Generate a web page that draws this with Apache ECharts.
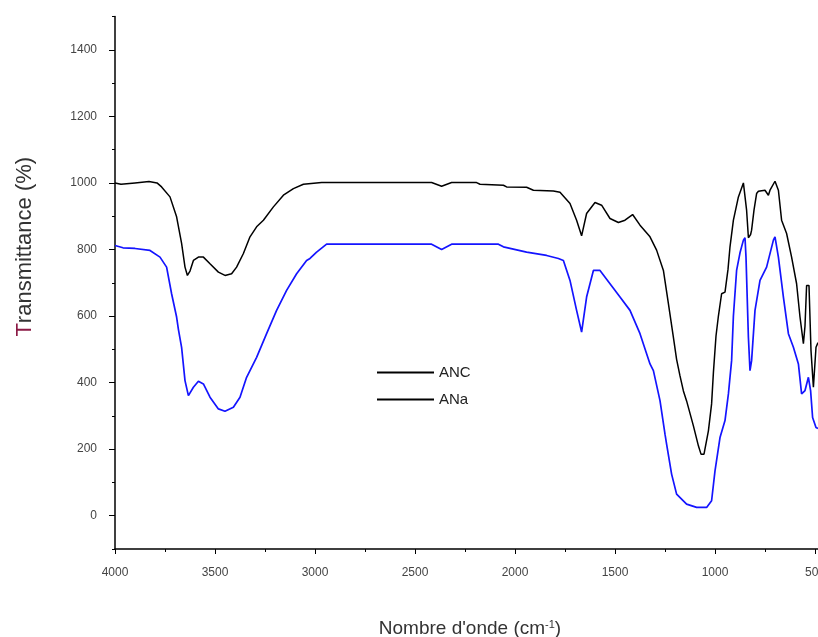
<!DOCTYPE html>
<html>
<head>
    <meta charset="utf-8"/>
    <title>FTIR ANC / ANa</title>
</head>
<body style="margin:0">

<div id="main" style="width: 818px;height:637px;"></div>

</body>
<script src="https://cdn.jsdelivr.net/npm/echarts@6/dist/echarts.min.js"></script>

<script>
    // nombre d'onde (cm-1) / transmittance
    var ancWn = [4000, 3990, 3970, 3900, 3830, 3790, 3767, 3725, 3692, 3667, 3650, 3638, 3625, 3608, 3583, 3558,
        3525, 3483, 3450, 3417, 3392, 3358, 3325, 3292, 3258, 3208, 3158, 3108, 3058, 2967, 2417, 2367, 2317,
        2192, 2175, 2058, 2042, 1942, 1908, 1808, 1775, 1725, 1692, 1667, 1642, 1600, 1567, 1525, 1483, 1450,
        1412, 1375, 1325, 1292, 1258, 1233, 1208, 1192, 1175, 1158, 1142, 1108, 1083, 1070, 1055, 1033, 1017,
        1008, 995, 983, 967, 950, 935, 925, 908, 883, 858, 850, 842, 833, 822, 817, 805, 792, 783, 750, 733,
        725, 700, 683, 667, 642, 617, 592, 575, 558, 550, 542, 530, 520, 508, 495, 485];
    var ancT = [1000, 1002, 996, 1000, 1004, 1000, 988, 958, 898, 818, 747, 722, 735, 767, 777, 777,
        757, 732, 722, 727, 747, 788, 838, 868, 888, 928, 963, 983, 996, 1001, 1001, 990, 1001,
        1001, 996, 993, 988, 987, 978, 976, 972, 938, 888, 841, 908, 941, 933, 893, 881, 888,
        905, 873, 838, 798, 737, 637, 536, 470, 420, 375, 345, 270, 210, 185, 185, 255, 336,
        430, 540, 600, 667, 672, 740, 808, 888, 958, 1000, 1005, 918, 835, 845, 858, 918, 968, 975, 978, 963,
        978, 1005, 978, 888, 848, 777, 697, 597, 517, 570, 692, 692, 496, 386, 506, 520];

    var anaWn = [4000, 3960, 3900, 3825, 3775, 3742, 3717, 3692, 3683, 3667, 3650, 3633, 3608, 3583, 3558,
        3525, 3483, 3450, 3408, 3375, 3342, 3292, 3242, 3192, 3142, 3092, 3042, 3025, 2992, 2942, 2417, 2367,
        2317, 2083, 2058, 1942, 1842, 1783, 1758, 1725, 1692, 1667, 1642, 1608, 1575, 1525, 1475, 1425, 1375,
        1325, 1308, 1275, 1250, 1242, 1217, 1192, 1142, 1092, 1042, 1017, 1000, 975, 950, 933, 917, 908, 892,
        875, 858, 850, 845, 833, 825, 817, 800, 775, 742, 708, 700, 683, 658, 633, 608, 583, 567, 550, 533,
        522, 512, 495, 485];
    var anaT = [812, 805, 803, 797, 777, 747, 667, 597, 560, 506, 406, 361, 386, 404, 396,
        356, 321, 314, 326, 356, 416, 476, 547, 617, 677, 727, 767, 773, 792, 816, 816, 800,
        816, 816, 808, 792, 782, 773, 767, 707, 617, 552, 657, 737, 737, 697, 657, 617, 547,
        456, 436, 346, 245, 215, 125, 65, 35, 25, 25, 45, 135, 235, 286, 366, 466, 600, 737,
        790, 828, 835, 777, 536, 436, 466, 617, 707, 747, 828, 838, 777, 657, 547, 506, 456, 366, 376, 416,
        376, 295, 265, 262];

    var yMajor = [0, 200, 400, 600, 800, 1000, 1200, 1400];

    function pairs(xs, ys) {
        var out = [];
        for (var i = 0; i < xs.length; i++) {
            out.push([xs[i], ys[i]]);
        }
        return out;
    }

    function plain(v) {
        return String(v);
    }

    var myChart = echarts.init(document.getElementById('main'));

    var option = {
        backgroundColor: '#fff',
        animation: false,
        textStyle: {fontFamily: 'Liberation Sans, Arial, sans-serif'},
        grid: {left: 115, top: 16.5, width: 800, bottom: 88, containLabel: false, outerBoundsMode: 'none'},
        legend: {
            orient: 'vertical',
            left: 372,
            top: 360,
            icon: 'rect',
            itemWidth: 57,
            itemHeight: 2,
            itemGap: 12,
            textStyle: {fontSize: 15, color: '#222'},
            data: [
                {name: 'ANC', itemStyle: {color: '#000'}},
                {name: 'ANa', itemStyle: {color: '#000'}}
            ]
        },
        xAxis: {
            type: 'value',
            min: 0,
            max: 4000,
            interval: 500,
            inverse: true,
            name: "Nombre d'onde (cm{sup|-1})",
            nameLocation: 'middle',
            nameGap: 70,
            nameTextStyle: {
                fontSize: 19,
                color: '#333',
                padding: [0, 90, 0, 0],
                rich: {sup: {fontSize: 11, color: '#333', verticalAlign: 'top', padding: [0, 0, 8, 0]}}
            },
            axisLine: {onZero: false, lineStyle: {color: '#000', width: 1.5}},
            axisTick: {length: 5, lineStyle: {color: '#000'}},
            minorTick: {show: true, splitNumber: 2, length: 3, lineStyle: {color: '#000'}},
            splitLine: {show: false},
            axisLabel: {fontSize: 12, color: '#444', margin: 18, formatter: plain}
        },
        yAxis: [{
            type: 'value',
            min: -100,
            max: 1500,
            interval: 100,
            position: 'left',
            name: '{t|T}ransmittance (%)',
            nameLocation: 'middle',
            nameGap: 79,
            nameTextStyle: {
                fontSize: 22,
                color: '#333',
                padding: [0, 0, 0, 72],
                rich: {t: {fontSize: 22, color: '#8b1a45'}}
            },
            axisLine: {show: true, onZero: false, lineStyle: {color: '#000', width: 1.5}},
            axisTick: {length: 6, customValues: yMajor, lineStyle: {color: '#000'}},
            axisLabel: {fontSize: 12, color: '#444', margin: 18, customValues: yMajor, formatter: plain},
            splitLine: {show: false}
        }, {
            type: 'value',
            min: -100,
            max: 1500,
            interval: 100,
            position: 'left',
            axisLine: {show: false, onZero: false},
            axisTick: {show: true, length: 3, lineStyle: {color: '#000'}},
            axisLabel: {show: false},
            splitLine: {show: false}
        }],
        series: [{
            name: 'ANC',
            type: 'line',
            showSymbol: false,
            color: '#000',
            lineStyle: {width: 1.5, color: '#000'},
            data: pairs(ancWn, ancT)
        }, {
            name: 'ANa',
            type: 'line',
            showSymbol: false,
            color: '#1414ff',
            lineStyle: {width: 1.7, color: '#1414ff'},
            data: pairs(anaWn, anaT)
        }]
    };

    myChart.setOption(option);
</script>
</html>
